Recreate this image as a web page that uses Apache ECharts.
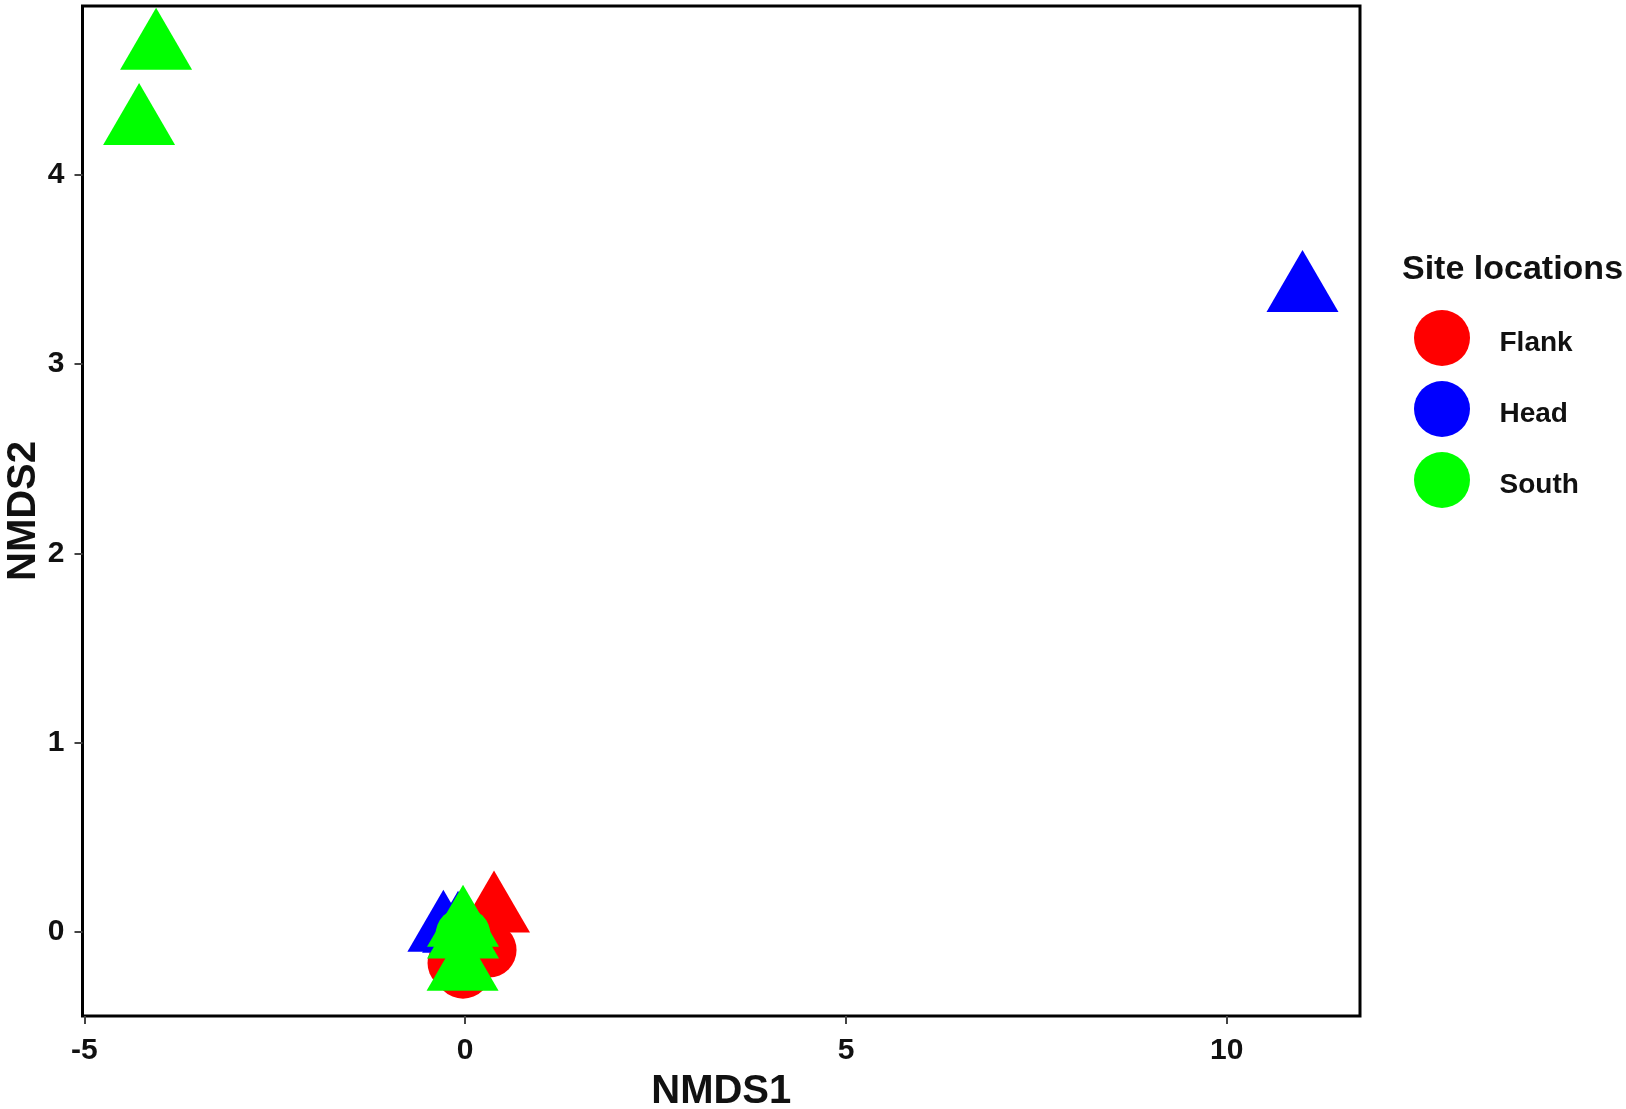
<!DOCTYPE html>
<html>
<head>
<meta charset="utf-8">
<title>NMDS site locations</title>
<script src="https://cdn.jsdelivr.net/npm/echarts@6/dist/echarts.min.js"></script>
<style>
  html, body { margin: 0; padding: 0; background: #fff; }
  #chart { width: 1626px; height: 1109px; }
</style>
</head>
<body>
<div id="chart"></div>
<script>
// site groups in legend order
const sites = ["Flank", "Head", "South"];
const siteColors = ["#ff0000", "#0000ff", "#00ff00"];

// NMDS scores, one set of arrays per site
const flankX = [0.379, 0.314, -0.133, -0.028];
const flankY = [0.104, -0.098, -0.167, -0.21];
const flankShape = ["triangle", "circle", "circle", "circle"];

const headX = [-0.286, -0.093, 10.994];
const headY = [0.002, -0.003, 3.385];
const headShape = ["triangle", "triangle", "triangle"];

const southX = [-4.058, -4.281, -0.028, -0.028, -0.028, -0.034];
const southY = [4.666, 4.268, -0.019, 0.029, -0.033, -0.204];
const southShape = ["triangle", "triangle", "circle", "triangle", "triangle", "triangle"];

// axis ticks
const xTicks = [-5, 0, 5, 10];
const yTicks = [0, 1, 2, 3, 4];

const FONT = "'Liberation Sans', Arial, sans-serif";

// ggplot style triangle: point sits at the centroid, so lift the box a bit
const TRI = [72, 62];
const CIRC = 55;

const makeData = (xs, ys, shapes) =>
  xs.map((x, i) => {
    const tri = shapes[i] === "triangle";
    return {
      value: [x, ys[i]],
      symbol: tri ? "triangle" : "circle",
      symbolSize: tri ? TRI : CIRC,
      symbolOffset: tri ? [0, -TRI[1] / 6] : [0, 0],
    };
  });

const groups = [
  makeData(flankX, flankY, flankShape),
  makeData(headX, headY, headShape),
  makeData(southX, southY, southShape),
];

const chart = echarts.init(document.getElementById("chart"), null, { renderer: "canvas" });

const axisCommon = {
  type: "value",
  axisLine: { show: false, onZero: false },
  splitLine: { show: false },
  axisTick: { show: true, length: 8, lineStyle: { color: "#444", width: 2 } },
  axisLabel: { color: "#111", fontFamily: FONT, fontWeight: "bold", fontSize: 30 },
  nameLocation: "middle",
  nameTextStyle: { color: "#111", fontFamily: FONT, fontWeight: "bold", fontSize: 40 },
};

chart.setOption({
  animation: false,
  backgroundColor: "#fff",
  title: {
    text: "Site locations",
    left: 1402,
    top: 253,
    padding: 0,
    textStyle: { fontFamily: FONT, fontWeight: "bold", fontSize: 34, color: "#111" },
  },
  legend: {
    data: sites,
    orient: "vertical",
    left: 1414,
    top: 310,
    padding: 0,
    icon: "circle",
    itemWidth: 105,
    itemHeight: 56,
    itemGap: 15,
    selectedMode: false,
    formatter: "{t|{name}}",
    textStyle: {
      fontFamily: FONT,
      fontWeight: "bold",
      fontSize: 28,
      color: "#111",
      rich: {
        t: {
          fontFamily: FONT,
          fontWeight: "bold",
          fontSize: 28,
          color: "#111",
          padding: [11, 0, 0, 0],
        },
      },
    },
  },
  grid: {
    left: 82.5,
    top: 6,
    width: 1277.5,
    height: 1010,
    outerBoundsMode: "none",
    containLabel: false,
    show: true,
    borderColor: "#000",
    borderWidth: 3,
    backgroundColor: "transparent",
  },
  xAxis: Object.assign({}, axisCommon, {
    min: -5.024,
    max: 11.749,
    minInterval: 5,
    maxInterval: 5,
    name: "NMDS1",
    nameGap: 56,
    axisTick: Object.assign({}, axisCommon.axisTick, { customValues: xTicks }),
    axisLabel: Object.assign({}, axisCommon.axisLabel, { customValues: xTicks, margin: 20 }),
  }),
  yAxis: Object.assign({}, axisCommon, {
    min: -0.447,
    max: 4.894,
    minInterval: 1,
    maxInterval: 1,
    name: "NMDS2",
    nameGap: 39,
    nameMoveOverlap: false,
    axisTick: Object.assign({}, axisCommon.axisTick, { customValues: yTicks }),
    axisLabel: Object.assign({}, axisCommon.axisLabel, { customValues: yTicks, margin: 18 }),
  }),
  series: sites.map((name, i) => ({
    name,
    type: "scatter",
    data: groups[i],
    z: 2 + i,
    itemStyle: { color: siteColors[i], opacity: 1 },
    emphasis: { disabled: true },
  })),
});
</script>
</body>
</html>
